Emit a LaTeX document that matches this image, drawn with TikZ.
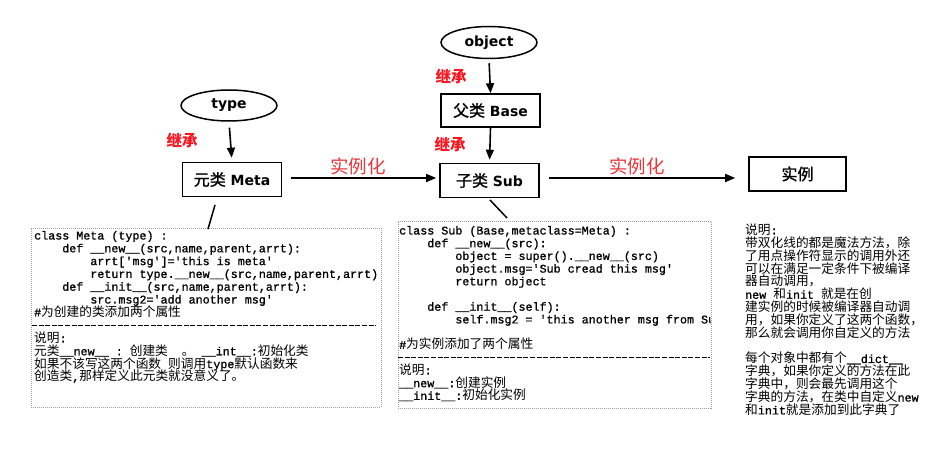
\documentclass[tikz,border=0pt]{standalone}
\usepackage{fontspec}
\setmainfont{DejaVu Sans}
\newfontfamily\cjk{Noto Sans CJK SC}
\newfontfamily\cjkm{Noto Sans CJK SC}[FakeBold=1.2]
\newfontfamily\mono{Liberation Mono}[FakeBold=1]
\usetikzlibrary{shapes.geometric,arrows.meta}
\definecolor{instred}{RGB}{236,52,58}
\definecolor{inhred}{RGB}{250,20,30}
\newcommand\zh[1]{{\cjk\fontsize{12.7}{12.7}\selectfont #1}}
\newcommand\bz[1]{{\cjkm\mdseries\fontsize{16}{16}\selectfont #1}}
\newcommand\cl[4]{\node[codeline] (#1) at (#2,#3) {#4};}
\tikzset{
  ell/.style={ellipse,draw,line width=1.5pt,minimum width=96pt,minimum height=31pt,inner sep=0pt,font=\bfseries\fontsize{14}{14}\selectfont},
  cls/.style={rectangle,draw,line width=1.6pt,minimum width=99pt,minimum height=34pt,inner sep=0pt,font=\bfseries\fontsize{14}{14}\selectfont},
  arr/.style={line width=1.6pt,-{Triangle[length=10pt,width=8pt]}},
  inh/.style={text=inhred,inner sep=0pt,font=\cjk\bfseries\fontsize{15.5}{15.5}\selectfont},
  inst/.style={text=instred,inner sep=0pt,font=\cjk\fontsize{18.5}{18.5}\selectfont},
  codebox/.style={draw=gray!75,line width=0.9pt,dash pattern=on 1pt off 1pt,inner sep=0pt},
  codeline/.style={anchor=base west,inner sep=0pt,font=\mono\fontsize{11.7}{12.7}\selectfont},
  sepline/.style={line width=0.8pt,dash pattern=on 5pt off 1.6pt},
  thin/.style={line width=1.5pt}
}
\begin{document}
\begin{tikzpicture}[x=1pt,y=-1pt]
\path[use as bounding box,fill=white] (0,0) rectangle (946,454);

% class nodes
\node[ell] (type) at (229,105.5) {type};
\node[ell,minimum height=32pt] (object) at (489,42.5) {object};
\node[cls,minimum height=33pt] (base) at (490.5,110.5) {\bz{父类} Base};
\node[cls] (meta) at (232,179.5) {\bz{元类} Meta};
\node[cls] (sub) at (489.5,180.5) {\bz{子类} Sub};
\node[cls,minimum width=97pt] (inst) at (797.5,174) {\bz{实例}};

% arrows
\draw[arr,shorten <=6pt,shorten >=4pt] (type.south) -- (meta.north);
\draw[arr,shorten <=4pt] (object.south) -- (base.north);
\draw[arr,shorten >=3pt] (base.south) -- (sub.north);
\draw[arr,shorten <=9pt,shorten >=3pt] ([yshift=1.5pt]meta.east) -- ([yshift=2.5pt]sub.west);
\draw[arr,shorten <=9pt,shorten >=13pt] ([yshift=2.5pt]sub.east) -- ([yshift=2.5pt]sub.east -| inst.west);

% labels
\node[inh] (l1) at (182,140) {继承};
\node[inh] (l2) at (451,76) {继承};
\node[inh] (l3) at (450,144) {继承};
\node[inst] (l4) at (358,166) {实例化};
\node[inst] (l5) at (637,166) {实例化};

% code boxes
\node[codebox,minimum width=350pt,minimum height=179pt] (metacode) at (206,317.5) {};
\node[codebox,minimum width=313pt,minimum height=187pt] (subcode) at (554.5,314.5) {};
\coordinate (mt) at (215,205);
\coordinate (mb) at (208,229);
\coordinate (st) at (490,200);
\coordinate (sb) at (507,218);
\draw[thin] (mt) -- (mb);
\draw[thin] (st) -- (sb);

% Meta code
\cl{m1}{34}{239.5}{class Meta (type) :}
\cl{m2}{34}{252.3}{~~~~def \_\_new\_\_(src,name,parent,arrt):}
\cl{m3}{34}{265.1}{~~~~~~~~arrt['msg']='this is meta'}
\cl{m4}{34}{277.9}{~~~~~~~~return type.\_\_new\_\_(src,name,parent,arrt)}
\cl{m5}{34}{290.7}{~~~~def \_\_init\_\_(src,name,parent,arrt):}
\cl{m6}{34}{303.5}{~~~~~~~~src.msg2='add another msg'}
\cl{m7}{34}{316.3}{\#\zh{为创建的类添加两个属性}}
\coordinate (ms1) at (32,325);
\coordinate (ms2) at (376,325);
\draw[sepline] (ms1) -- (ms2);
\cl{m8}{34}{342.5}{\zh{说明}:}
\cl{m9}{34}{355.3}{\zh{元类}\_\_new\_\_~:~\zh{创建类}~~\zh{。}~\_\_int\_\_:\zh{初始化类}}
\cl{m10}{34}{368.1}{\zh{如果不该写这两个函数}~\zh{则调用}type\zh{默认函数来}}
\cl{m11}{34}{380.9}{\zh{创造类},\zh{那样定义此元类就没意义了。}}

% Sub code
\begin{scope}
\clip (398,215) rectangle (710.5,420);
\cl{s1}{399}{234.5}{class Sub (Base,metaclass=Meta) :}
\cl{s2}{399}{247.2}{~~~~def \_\_new\_\_(src):}
\cl{s3}{399}{259.9}{~~~~~~~~object = super().\_\_new\_\_(src)}
\cl{s4}{399}{272.6}{~~~~~~~~object.msg='Sub cread this msg'}
\cl{s5}{399}{285.3}{~~~~~~~~return object}
\cl{s6}{399}{310.7}{~~~~def \_\_init\_\_(self):}
\cl{s7}{399}{323.4}{~~~~~~~~self.msg2 = 'this another msg from Sub'}
\end{scope}
\cl{s8}{399}{348.8}{\#\zh{为实例添加了两个属性}}
\coordinate (ss1) at (398,357.5);
\coordinate (ss2) at (710,357.5);
\draw[sepline] (ss1) -- (ss2);
\cl{s9}{399}{374.5}{\zh{说明}:}
\cl{s10}{399}{387.2}{\_\_new\_\_:\zh{创建实例}}
\cl{s11}{399}{399.9}{\_\_init\_\_:\zh{初始化实例}}

% right notes
\cl{r1}{745}{234.5}{\zh{说明}:}
\cl{r2}{745}{247.35}{\zh{带双化线的都是魔法方法，除}}
\cl{r3}{745}{260.2}{\zh{了用点操作符显示的调用外还}}
\cl{r4}{745}{273.05}{\zh{可以在满足一定条件下被编译}}
\cl{r5}{745}{285.9}{\zh{器自动调用，}}
\cl{r6}{745}{298.75}{new~\zh{和}init~\zh{就是在创}}
\cl{r7}{745}{311.6}{\zh{建实例的时候被编译器自动调}}
\cl{r8}{745}{324.45}{\zh{用，如果你定义了这两个函数，}}
\cl{r9}{745}{337.3}{\zh{那么就会调用你自定义的方法}}
\cl{r10}{745}{363}{\zh{每个对象中都有个}\_\_dict\_\_}
\cl{r11}{745}{375.85}{\zh{字典，如果你定义的方法在此}}
\cl{r12}{745}{388.7}{\zh{字典中，则会最先调用这个}}
\cl{r13}{745}{401.55}{\zh{字典的方法，在类中自定义}new}
\cl{r14}{745}{414.4}{\zh{和}init\zh{就是添加到此字典了}}
\end{tikzpicture}
\end{document}
